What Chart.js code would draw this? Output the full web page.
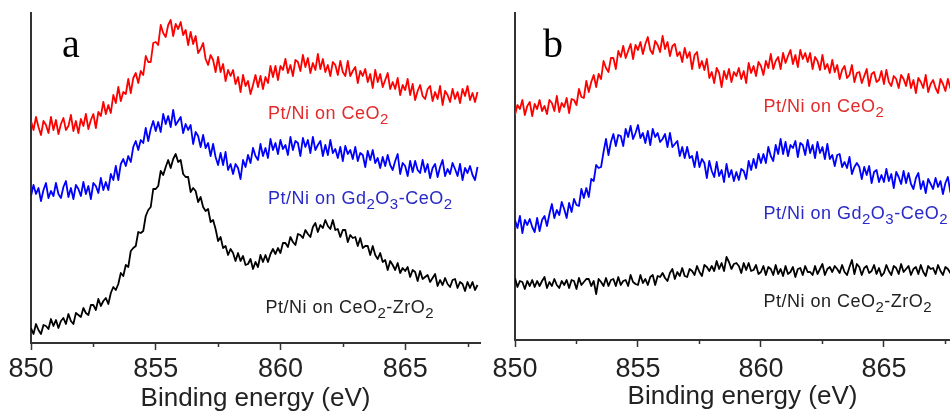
<!DOCTYPE html>
<html>
<head>
<meta charset="utf-8">
<script src="https://cdn.jsdelivr.net/npm/chart.js@4.4.0/dist/chart.umd.min.js"></script>
<style>
  html, body { margin: 0; padding: 0; background: #fff; width: 950px; height: 414px; overflow: hidden; }
  .panel { position: absolute; top: 0; }
  #panelA { left: 0; }
  #panelB { left: 480px; }
</style>
</head>
<body>
<div class="panel" id="panelA"><canvas id="chartA" width="490" height="414"></canvas></div>
<div class="panel" id="panelB"><canvas id="chartB" width="500" height="414"></canvas></div>
<script>
// Ni 2p3/2 region, intensities in arbitrary units (curves are offset for clarity)
const majorTicks = [850, 855, 860, 865];
const minorTicks = [852.5, 857.5, 862.5, 867.5];
const energyStep = 0.1; // eV between recorded points, both panels start at 850 eV

// panel a
const redA = [
  222,213,226,216,208,222,218,210,226,213,
  223,209,219,225,213,217,228,212,222,210,
  224,217,229,214,223,229,215,231,227,241,
  229,238,230,248,240,256,242,251,249,264,
  250,265,270,260,272,268,287,281,281,300,
  301,298,318,310,306,318,323,307,319,314,
  321,308,313,298,311,299,307,290,294,300,
  284,278,288,283,271,286,271,279,262,273,
  267,273,259,266,251,268,257,262,249,258,
  268,256,267,254,266,260,277,266,277,263,
  277,273,284,270,278,267,283,281,272,288,
  276,285,270,280,273,289,274,284,271,278,
  267,281,278,268,282,271,267,282,267,272,
  276,260,272,267,274,261,269,255,273,261,
  269,256,263,270,254,261,254,265,248,258,
  253,264,248,259,243,252,258,247,244,254,
  257,242,251,244,257,238,252,248,241,254,
  244,251,240,254,247,257,243,250,241,251
];
const blueA = [
  147,158,149,155,142,153,160,145,152,147,
  160,149,145,156,162,146,155,144,158,154,
  147,161,149,157,144,160,157,150,165,153,
  161,153,169,163,177,163,179,184,177,187,
  181,196,202,193,203,200,215,202,214,222,
  212,221,211,229,219,227,216,233,218,222,
  226,210,219,213,218,199,211,207,196,208,
  195,200,187,199,186,178,190,178,191,173,
  179,169,179,175,164,183,176,188,180,195,
  187,183,199,187,195,185,204,193,200,189,
  203,194,198,188,206,193,202,200,187,205,
  196,203,190,206,193,198,202,187,198,188,
  203,190,194,185,196,182,197,189,193,184,
  196,182,190,188,176,192,183,193,180,185,
  175,186,177,188,178,173,182,189,169,180,
  177,167,182,171,182,173,170,183,171,179,
  165,175,179,166,176,183,167,174,169,180,
  174,167,179,163,175,170,177,168,163,176
];
const blackA = [
  15,9,19,13,9,18,17,14,24,17,
  23,15,22,25,19,29,22,19,30,28,
  26,35,30,28,38,38,33,44,37,42,
  45,39,50,56,53,59,70,67,78,76,
  92,95,97,111,110,112,127,133,136,154,
  154,157,172,168,176,183,175,184,189,181,
  183,169,166,166,151,155,152,141,146,136,
  132,134,121,123,114,102,106,95,97,88,
  94,90,82,90,82,87,78,79,84,74,
  81,76,88,81,88,81,89,94,89,95,
  90,100,100,96,106,101,98,109,108,105,
  113,109,106,116,120,111,118,115,123,117,
  114,123,113,114,106,113,113,101,108,105,
  106,97,105,95,97,97,88,97,88,84,
  90,81,83,73,82,78,73,80,70,75,
  72,76,66,73,71,62,72,64,66,68,
  61,65,69,57,63,58,65,59,56,63,
  64,55,61,59,52,61,55,61,53,58
];

// panel b
const redB = [
  225,235,231,240,225,234,238,224,236,231,
  240,229,234,226,240,237,229,244,228,237,
  233,242,227,241,240,235,251,243,242,259,
  248,258,265,253,266,261,279,272,268,282,
  282,271,289,283,294,282,289,296,281,295,
  290,298,286,296,303,290,286,299,295,288,
  304,291,298,284,294,296,284,288,278,292,
  282,288,271,285,288,272,279,270,281,262,
  268,257,272,267,253,269,261,271,258,268,
  264,272,261,269,257,277,267,274,264,278,
  274,265,279,272,286,271,279,283,271,287,
  277,284,290,276,285,273,290,281,287,278,
  287,271,283,279,270,285,271,276,267,280,
  268,275,261,270,274,262,265,275,258,267,
  268,257,264,271,254,266,268,258,260,269,
  256,270,258,254,264,261,252,265,261,254,
  266,252,260,247,262,258,252,265,248,256,
  260,252,247,261,256,249,261,252,248,258,
  257
];
const blueB = [
  120,112,124,107,120,115,121,113,108,122,
  109,120,124,114,126,136,122,130,125,138,
  131,122,137,128,141,135,134,151,142,152,
  143,161,159,175,172,173,188,201,185,198,
  206,194,205,204,194,211,203,214,201,207,
  215,202,207,197,209,195,211,203,207,198,
  201,206,193,207,193,196,199,184,193,182,
  193,182,184,173,188,173,181,177,162,179,
  169,163,178,164,170,158,176,163,170,159,
  168,160,171,169,161,179,170,181,172,186,
  177,186,177,193,184,179,195,186,201,186,
  198,184,195,192,199,183,197,195,185,200,
  187,195,182,198,187,193,181,196,181,185,
  174,185,186,173,178,172,183,166,173,177,
  173,161,173,165,174,157,168,170,158,165,
  158,171,159,166,152,168,163,156,169,157,
  167,156,151,162,167,151,159,147,161,156,
  151,162,153,159,146,157,163,148,154,148,
  151
];
const blackB = [
  62,53,59,58,51,59,54,60,53,59,
  54,59,63,52,58,54,61,55,52,59,
  55,60,52,60,59,51,62,55,58,61,
  61,54,59,46,61,58,54,62,54,60,
  61,54,63,55,59,60,54,65,58,56,
  55,65,57,61,55,63,65,55,64,63,
  67,62,59,67,71,61,68,64,72,64,
  63,71,69,65,74,68,64,75,73,69,
  74,69,79,71,77,69,83,78,71,76,
  77,74,67,77,70,77,69,70,75,66,
  68,74,65,73,71,65,75,66,71,64,
  74,66,68,73,63,71,72,65,74,68,
  68,65,74,66,71,76,65,71,73,68,
  74,71,67,75,68,65,73,80,66,76,
  73,65,72,74,67,69,75,66,72,64,
  67,75,69,65,74,72,66,76,68,71,
  74,65,71,73,66,75,68,64,74,71,
  72,66,75,69,65,73,71,67,76,68,
  73
];

const labelCeO2 = [['Pt/Ni on CeO'], ['2', true]];
const labelGd = [['Pt/Ni on Gd'], ['2', true], ['O'], ['3', true], ['-CeO'], ['2', true]];
const labelZr = [['Pt/Ni on CeO'], ['2', true], ['-ZrO'], ['2', true]];

const SANS = 'Liberation Sans, Arial, sans-serif';

function toPoints(values) {
  return values.map((v, i) => ({ x: 850 + i * energyStep, y: v }));
}

// panel letter, sample names and the short minor ticks under the axis
const decorations = {
  id: 'decorations',
  afterDraw(chart, args, opts) {
    const { ctx, chartArea, scales: { x, y } } = chart;
    ctx.save();
    ctx.strokeStyle = '#333';
    ctx.lineWidth = 1.5;
    minorTicks.forEach(v => {
      const px = Math.round(x.getPixelForValue(v)) + 0.5;
      if (px > chartArea.right) return;
      ctx.beginPath();
      ctx.moveTo(px, chartArea.bottom);
      ctx.lineTo(px, chartArea.bottom + 4);
      ctx.stroke();
    });

    ctx.fillStyle = '#000';
    ctx.textBaseline = 'alphabetic';
    ctx.font = '40px "Liberation Serif", "Times New Roman", serif';
    ctx.fillText(opts.letter, chartArea.left + opts.letterX, chartArea.top + 44);

    ctx.letterSpacing = '0.5px';
    opts.labels.forEach(lab => {
      let px = x.getPixelForValue(lab.x);
      const py = y.getPixelForValue(lab.y);
      ctx.fillStyle = lab.color;
      lab.parts.forEach(([text, sub]) => {
        ctx.font = (sub ? '15px ' : '18px ') + SANS;
        ctx.fillText(text, px, sub ? py + 5 : py);
        px += ctx.measureText(text).width;
      });
    });
    ctx.restore();
  }
};

function makePanel(canvasId, cfg) {
  const ctx = document.getElementById(canvasId).getContext('2d');
  const line = (data, color) => ({
    data: toPoints(data),
    borderColor: color,
    borderWidth: 1.8,
    borderJoinStyle: 'round',
    pointRadius: 0,
    tension: 0,
    fill: false
  });
  return new Chart(ctx, {
    type: 'line',
    data: {
      datasets: [
        line(cfg.red, '#ff0000'),
        line(cfg.blue, '#0000ff'),
        line(cfg.black, '#000000')
      ]
    },
    plugins: [decorations],
    options: {
      responsive: false,
      animation: false,
      events: [],
      layout: { padding: { left: cfg.padLeft, right: 10, top: 13, bottom: 0 } },
      plugins: {
        legend: { display: false },
        tooltip: { enabled: false },
        decorations: { letter: cfg.letter, letterX: cfg.letterX, labels: cfg.labels }
      },
      scales: {
        x: {
          type: 'linear',
          min: 850,
          max: cfg.xMax,
          afterFit: s => { s.height = cfg.axisHeight; },
          afterBuildTicks: s => { s.ticks = majorTicks.map(v => ({ value: v })); },
          border: { display: true, color: '#333', width: 2 },
          grid: { display: true, drawOnChartArea: false, drawTicks: true, tickLength: 7, tickWidth: 1.5, tickColor: '#333' },
          ticks: {
            autoSkip: false,
            maxRotation: 0,
            padding: cfg.tickPad,
            color: '#222',
            font: { family: SANS, size: 27 },
            callback: v => String(v)
          },
          title: {
            display: true,
            text: 'Binding energy (eV)',
            color: '#222',
            font: { family: SANS, size: 26 },
            padding: { top: 0, bottom: cfg.titlePad }
          }
        },
        y: {
          min: 0,
          max: cfg.yMax,
          afterFit: s => { s.width = 0; },
          ticks: { display: false },
          grid: { display: false },
          border: { display: true, color: '#333', width: 2 }
        }
      }
    }
  });
}

makePanel('chartA', {
  red: redA, blue: blueA, black: blackA,
  padLeft: 31, xMax: 868, yMax: 330, axisHeight: 71, tickPad: 3, titlePad: 0,
  letter: 'a', letterX: 31,
  labels: [
    { x: 859.5, y: 224, color: '#e32b2b', parts: labelCeO2 },
    { x: 859.5, y: 139, color: '#2a2ac8', parts: labelGd },
    { x: 859.4, y: 30, color: '#222222', parts: labelZr }
  ]
});

makePanel('chartB', {
  red: redB, blue: blueB, black: blackB,
  padLeft: 35, xMax: 868.5, yMax: 327, axisHeight: 74, tickPad: 6, titlePad: 2,
  letter: 'b', letterX: 28,
  labels: [
    { x: 860.1, y: 228, color: '#e32b2b', parts: labelCeO2 },
    { x: 860.1, y: 121, color: '#2a2ac8', parts: labelGd },
    { x: 860.1, y: 33, color: '#222222', parts: labelZr }
  ]
});
</script>
</body>
</html>
